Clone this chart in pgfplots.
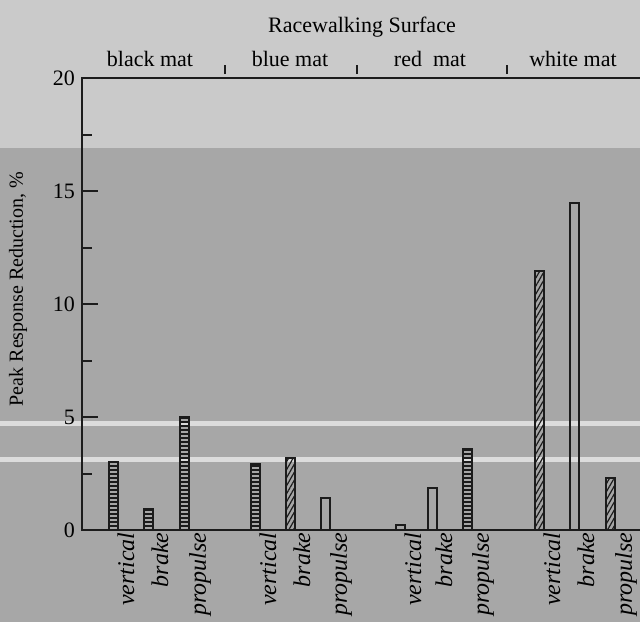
\documentclass[border=0pt]{standalone}
\usepackage{pgfplots}
\pgfplotsset{compat=1.18}
\usepackage{fontspec}
\setmainfont{Liberation Serif}
\usetikzlibrary{patterns.meta}
\definecolor{bgdark}{HTML}{A7A7A7}
\definecolor{bglight}{HTML}{CACACA}
\definecolor{band}{HTML}{DCDCDC}
\definecolor{ink}{HTML}{1C1C1C}
\tikzset{
  ladder/.style={pattern={Lines[angle=0,distance=2pt,line width=0.6pt]}, pattern color=ink},
  diag/.style={pattern={Lines[angle=60,distance=2pt,line width=0.6pt]}, pattern color=ink},
}
\begin{document}
\begin{tikzpicture}
\useasboundingbox (0,0) rectangle (320pt,311pt);
\fill[bgdark] (0,0) rectangle (320pt,311pt);
\fill[bglight] (0,237pt) rectangle (320pt,311pt);
\fill[band] (0,98.25pt) rectangle (320pt,100.75pt);
\fill[band] (0,80.25pt) rectangle (320pt,82.75pt);
\node[font=\fontsize{10}{12}\selectfont, rotate=90, anchor=center] at (9pt,166.5pt) {Peak Response Reduction, \%};
\begin{axis}[
  at={(41pt,46pt)}, anchor=south west,
  scale only axis, width=281.5pt, height=226pt,
  xmin=82, xmax=645, ymin=0, ymax=20,
  ybar,
  every axis plot/.append style={bar width=9, bar shift=0pt, draw=ink, line width=1pt},
  axis line style={line width=1.2pt, ink},
  ytick={0,5,10,15,20},
  minor ytick={2.5,7.5,12.5,17.5},
  ytick pos=left,
  tick align=inside,
  major tick length=8pt,
  minor tick length=5pt,
  every tick/.style={ink, line width=1pt},
  xtick={117,151,191,259,293,332,404,435,474,543,577,617},
  xticklabels={vertical,brake,propulse,vertical,brake,propulse,vertical,brake,propulse,vertical,brake,propulse},
  xtick style={draw=none},
  x tick label style={rotate=90, anchor=east, font=\fontsize{12}{14}\selectfont\itshape, inner sep=1pt, yshift=-4.5pt},
  y tick label style={font=\fontsize{11}{13}\selectfont},
  /pgf/number format/assume math mode=true,
  clip=false,
]
% black mat
\addplot[ladder] coordinates {(113,3.0)};
\addplot[ladder] coordinates {(148,0.95)};
\addplot[ladder] coordinates {(184,5.0)};
% blue mat
\addplot[ladder] coordinates {(255,2.9)};
\addplot[diag] coordinates {(290,3.2)};
\addplot[fill=none] coordinates {(325,1.4)};
% red mat
\addplot[fill=none] coordinates {(400,0.2)};
\addplot[fill=none] coordinates {(432,1.85)};
\addplot[ladder] coordinates {(467,3.6)};
% white mat
\addplot[diag] coordinates {(539,11.45)};
\addplot[fill=none] coordinates {(574,14.45)};
\addplot[diag] coordinates {(610,2.3)};
% annotations
\node[font=\fontsize{11}{13}\selectfont, anchor=base] at (axis cs:150,20) [yshift=6pt] {black mat};
\node[font=\fontsize{11}{13}\selectfont, anchor=base] at (axis cs:290,20) [yshift=6pt] {blue mat};
\node[font=\fontsize{11}{13}\selectfont, anchor=base] at (axis cs:430,20) [yshift=6pt] {red\ \ mat};
\node[font=\fontsize{11}{13}\selectfont, anchor=base] at (axis cs:573,20) [yshift=6pt] {white mat};
\node[font=\fontsize{11}{13}\selectfont, anchor=base] at (axis cs:362,20) [yshift=23pt] {Racewalking Surface};
\draw[ink, line width=0.8pt] ([yshift=2pt]axis cs:225,20) -- ([yshift=6.5pt]axis cs:225,20);
\draw[ink, line width=0.8pt] ([yshift=2pt]axis cs:357,20) -- ([yshift=6.5pt]axis cs:357,20);
\draw[ink, line width=0.8pt] ([yshift=2pt]axis cs:507,20) -- ([yshift=6.5pt]axis cs:507,20);
\end{axis}
\end{tikzpicture}
\end{document}
